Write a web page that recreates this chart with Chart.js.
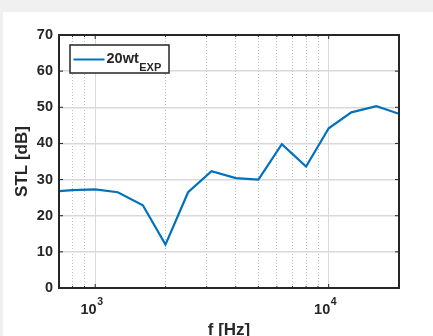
<!DOCTYPE html>
<html>
<head>
<meta charset="utf-8">
<script src="https://cdn.jsdelivr.net/npm/chart.js@4.4.1/dist/chart.umd.min.js"></script>
<style>
  html, body { margin: 0; padding: 0; background: #f0f0f0; }
  canvas { display: block; }
</style>
</head>
<body>
<canvas id="stl" width="433" height="336"></canvas>
<script>
// Measured sound transmission loss, one-third-octave band centres
const freqHz = [700, 800, 1000, 1250, 1600, 2000, 2500, 3150, 4000, 5000, 6300, 8000, 10000, 12500, 16000, 20000];
const stlDb  = [26.8, 27.1, 27.3, 26.5, 22.9, 12.0, 26.5, 32.3, 30.4, 30.0, 39.8, 33.6, 44.2, 48.6, 50.3, 48.2];

// Axis ranges and grid positions
const xRange = [700, 20000];
const yRange = [0, 70];
const yStep = 10;
const xGridHz = [800, 900, 1000, 2000, 3000, 4000, 5000, 6000, 7000, 8000, 9000, 10000];
const xDecades = [1000, 10000];
const xDecadeExp = ['3', '4'];

const seriesName = '20wt';
const seriesSub = 'EXP';

const INK = '#262626';
const BLUE = '#0072BD';
const FONT = "'Liberation Sans', Arial, sans-serif";

const isDecade = v => xDecades.includes(v);

const framePlugin = {
  id: 'frame',
  beforeDraw(chart) {
    const c = chart.ctx;
    c.save();
    c.fillStyle = '#f0f0f0';
    c.fillRect(0, 0, chart.width, chart.height);
    c.fillStyle = '#ffffff';
    c.fillRect(3, 12, chart.width - 3, chart.height - 12);
    c.restore();
  },
  afterDatasetsDraw(chart) {
    const c = chart.ctx;
    const a = chart.chartArea;
    const xs = chart.scales.x, ys = chart.scales.y;
    c.save();
    c.strokeStyle = INK;
    c.lineWidth = 1;
    // inward tick marks on all four sides
    c.beginPath();
    ys.ticks.forEach(t => {
      const py = ys.getPixelForValue(t.value);
      c.moveTo(a.left, py); c.lineTo(a.left + 4, py);
      c.moveTo(a.right, py); c.lineTo(a.right - 4, py);
    });
    xs.ticks.forEach(t => {
      const px = xs.getPixelForValue(t.value);
      const len = isDecade(t.value) ? 4 : 2;
      c.moveTo(px, a.bottom); c.lineTo(px, a.bottom - len);
      c.moveTo(px, a.top); c.lineTo(px, a.top + len);
    });
    c.stroke();
    // axes box
    c.lineWidth = 2;
    c.strokeRect(a.left, a.top, a.right - a.left, a.bottom - a.top);

    // decade labels with superscript exponent
    c.fillStyle = INK;
    xDecades.forEach((v, i) => {
      const px = xs.getPixelForValue(v);
      c.font = 'bold 14.5px ' + FONT;
      c.textAlign = 'right';
      c.textBaseline = 'alphabetic';
      c.fillText('10', px + 1.5, a.bottom + 26);
      c.font = 'bold 10.5px ' + FONT;
      c.textAlign = 'left';
      c.fillText(xDecadeExp[i], px + 2, a.bottom + 17);
    });

    // legend
    const lx = a.left + 11, ly = a.top + 10, lw = 99, lh = 28;
    c.fillStyle = '#ffffff';
    c.fillRect(lx, ly, lw, lh);
    c.lineWidth = 1.5;
    c.strokeStyle = INK;
    c.strokeRect(lx, ly, lw, lh);
    c.strokeStyle = BLUE;
    c.lineWidth = 2;
    c.beginPath();
    c.moveTo(lx + 3.5, ly + 14.5);
    c.lineTo(lx + 34.5, ly + 14.5);
    c.stroke();
    c.fillStyle = INK;
    c.font = 'bold 14.5px ' + FONT;
    c.textAlign = 'left';
    c.textBaseline = 'alphabetic';
    c.fillText(seriesName, lx + 36.5, ly + 17.5);
    const w = c.measureText(seriesName).width;
    c.font = 'bold 11px ' + FONT;
    c.fillText(seriesSub, lx + 36.5 + w + 0.5, ly + 26);
    c.restore();
  }
};

new Chart(document.getElementById('stl'), {
  type: 'line',
  data: {
    datasets: [{
      label: seriesName + seriesSub,
      data: freqHz.map((f, i) => ({ x: f, y: stlDb[i] })),
      borderColor: BLUE,
      borderWidth: 2.2,
      pointRadius: 0,
      tension: 0,
      fill: false
    }]
  },
  options: {
    responsive: false,
    animation: false,
    devicePixelRatio: 1,
    layout: { padding: { top: 35, right: 34, left: 0, bottom: 0 } },
    plugins: { legend: { display: false }, tooltip: { enabled: false } },
    scales: {
      x: {
        type: 'logarithmic',
        min: xRange[0],
        max: xRange[1],
        afterBuildTicks(scale) {
          scale.ticks = xGridHz.map(v => ({ value: v, major: isDecade(v) }));
        },
        afterFit(scale) { scale.height = 48; },
        ticks: { display: false },
        grid: {
          drawTicks: false,
          lineWidth: 1,
          color: ctx => isDecade(ctx.tick && ctx.tick.value) ? '#d9d9d9' : '#bdbdbd'
        },
        border: {
          display: false,
          dash: ctx => isDecade(ctx.tick && ctx.tick.value) ? [] : [1, 2]
        },
        title: {
          display: true,
          text: 'f [Hz]',
          color: INK,
          font: { family: FONT, size: 17, weight: 'bold' },
          padding: { top: 0, bottom: -5 }
        }
      },
      y: {
        min: yRange[0],
        max: yRange[1],
        afterFit(scale) { scale.width = 59; },
        ticks: {
          stepSize: yStep,
          padding: 6,
          color: INK,
          font: { family: FONT, size: 14.5, weight: 'bold' }
        },
        grid: { drawTicks: false, color: '#d9d9d9', lineWidth: 1.5 },
        border: { display: false },
        title: {
          display: true,
          text: 'STL [dB]',
          color: INK,
          font: { family: FONT, size: 17, weight: 'bold' },
          padding: { top: 12, bottom: 0 }
        }
      }
    }
  },
  plugins: [framePlugin]
});
</script>
</body>
</html>
